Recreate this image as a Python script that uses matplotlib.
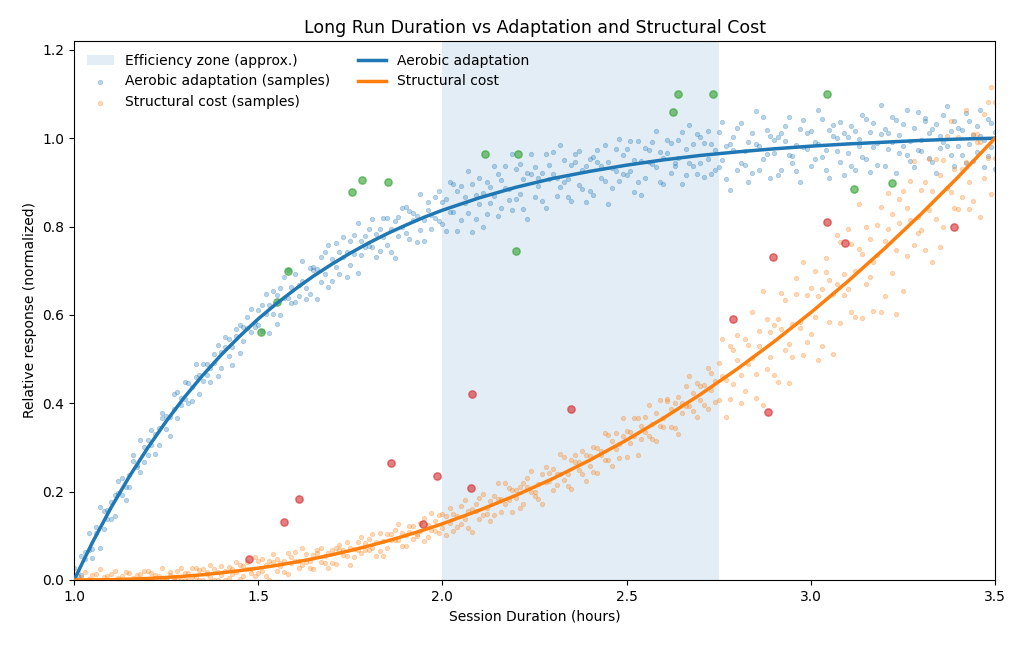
import numpy as np
import matplotlib
matplotlib.use("Agg")
import matplotlib.pyplot as plt

# Smooth response curves (hours -> normalized response)
curve_x = [1.00, 1.05, 1.10, 1.15, 1.20, 1.25, 1.30, 1.35, 1.40, 1.45,
           1.50, 1.55, 1.60, 1.65, 1.70, 1.75, 1.80, 1.85, 1.90, 1.95,
           2.00, 2.10, 2.20, 2.30, 2.40, 2.50, 2.60, 2.70, 2.80, 2.90,
           3.00, 3.10, 3.20, 3.30, 3.40, 3.50]
aerobic_curve = [0.000, 0.085, 0.163, 0.234, 0.299, 0.359, 0.414, 0.464, 0.510, 0.552,
                 0.591, 0.626, 0.658, 0.688, 0.715, 0.740, 0.763, 0.784, 0.803, 0.821,
                 0.837, 0.865, 0.889, 0.909, 0.925, 0.939, 0.951, 0.961, 0.969, 0.976,
                 0.982, 0.987, 0.991, 0.995, 0.998, 1.000]
structural_curve = [0.0000, 0.0002, 0.0007, 0.0018, 0.0034, 0.0056, 0.0085, 0.0120, 0.0162, 0.0211,
                    0.0268, 0.0331, 0.0403, 0.0483, 0.0570, 0.0666, 0.0771, 0.0883, 0.1004, 0.1134,
                    0.1272, 0.1577, 0.1918, 0.2296, 0.2712, 0.3169, 0.3664, 0.4199, 0.4775, 0.5393,
                    0.6053, 0.6756, 0.7501, 0.8290, 0.9123, 1.0000]

# Sample x positions (hours)
samp_x = [
    1.00, 1.01, 1.02, 1.03, 1.04, 1.05, 1.06, 1.07, 1.08, 1.09,
    1.10, 1.11, 1.12, 1.13, 1.14, 1.15, 1.16, 1.17, 1.18, 1.19,
    1.20, 1.21, 1.22, 1.23, 1.24, 1.25, 1.26, 1.27, 1.28, 1.29,
    1.30, 1.31, 1.32, 1.33, 1.34, 1.35, 1.36, 1.37, 1.38, 1.39,
    1.40, 1.41, 1.42, 1.43, 1.44, 1.45, 1.46, 1.47, 1.48, 1.49,
    1.50, 1.51, 1.52, 1.53, 1.54, 1.55, 1.56, 1.57, 1.58, 1.59,
    1.60, 1.61, 1.62, 1.63, 1.64, 1.65, 1.66, 1.67, 1.68, 1.69,
    1.70, 1.71, 1.72, 1.73, 1.74, 1.75, 1.76, 1.77, 1.78, 1.79,
    1.80, 1.81, 1.82, 1.83, 1.84, 1.85, 1.86, 1.87, 1.88, 1.89,
    1.90, 1.91, 1.92, 1.93, 1.94, 1.95, 1.96, 1.97, 1.98, 1.99,
    2.00, 2.01, 2.02, 2.03, 2.04, 2.05, 2.06, 2.07, 2.08, 2.09,
    2.10, 2.11, 2.12, 2.13, 2.14, 2.15, 2.16, 2.17, 2.18, 2.19,
    2.20, 2.21, 2.22, 2.23, 2.24, 2.25, 2.26, 2.27, 2.28, 2.29,
    2.30, 2.31, 2.32, 2.33, 2.34, 2.35, 2.36, 2.37, 2.38, 2.39,
    2.40, 2.41, 2.42, 2.43, 2.44, 2.45, 2.46, 2.47, 2.48, 2.49,
    2.50, 2.51, 2.52, 2.53, 2.54, 2.55, 2.56, 2.57, 2.58, 2.59,
    2.60, 2.61, 2.62, 2.63, 2.64, 2.65, 2.66, 2.67, 2.68, 2.69,
    2.70, 2.71, 2.72, 2.73, 2.74, 2.75, 2.76, 2.77, 2.78, 2.79,
    2.80, 2.81, 2.82, 2.83, 2.84, 2.85, 2.86, 2.87, 2.88, 2.89,
    2.90, 2.91, 2.92, 2.93, 2.94, 2.95, 2.96, 2.97, 2.98, 2.99,
    3.00, 3.01, 3.02, 3.03, 3.04, 3.05, 3.06, 3.07, 3.08, 3.09,
    3.10, 3.11, 3.12, 3.13, 3.14, 3.15, 3.16, 3.17, 3.18, 3.19,
    3.20, 3.21, 3.22, 3.23, 3.24, 3.25, 3.26, 3.27, 3.28, 3.29,
    3.30, 3.31, 3.32, 3.33, 3.34, 3.35, 3.36, 3.37, 3.38, 3.39,
    3.40, 3.41, 3.42, 3.43, 3.44, 3.45, 3.46, 3.47, 3.48, 3.49, 3.50]

# Aerobic adaptation samples (two passes over samp_x)
aerobic_a = [
    0.008, -0.013, 0.054, 0.048, 0.106, 0.070, 0.106, 0.072, 0.156, 0.138,
    0.138, 0.192, 0.224, 0.193, 0.180, 0.237, 0.270, 0.255, 0.316, 0.266,
    0.317, 0.306, 0.285, 0.345, 0.377, 0.341, 0.370, 0.421, 0.367, 0.411,
    0.449, 0.401, 0.437, 0.459, 0.421, 0.489, 0.463, 0.480, 0.512, 0.461,
    0.515, 0.551, 0.507, 0.527, 0.567, 0.514, 0.573, 0.596, 0.561, 0.583,
    0.612, 0.563, 0.647, 0.623, 0.601, 0.580, 0.660, 0.639, 0.701, 0.627,
    0.693, 0.643, 0.677, 0.637, 0.707, 0.702, 0.637, 0.731, 0.693, 0.759,
    0.726, 0.762, 0.693, 0.730, 0.686, 0.768, 0.738, 0.809, 0.736, 0.779,
    0.795, 0.753, 0.730, 0.794, 0.819, 0.759, 0.795, 0.729, 0.821, 0.799,
    0.785, 0.835, 0.814, 0.765, 0.873, 0.814, 0.838, 0.795, 0.866, 0.813,
    0.855, 0.790, 0.902, 0.832, 0.881, 0.815, 0.854, 0.925, 0.788, 0.871,
    0.910, 0.876, 0.829, 0.854, 0.938, 0.823, 0.906, 0.887, 0.861, 0.964,
    0.862, 0.941, 0.907, 0.818, 0.920, 0.935, 0.892, 0.858, 0.964, 0.907,
    0.918, 0.870, 0.984, 0.900, 0.866, 0.940, 0.964, 0.893, 0.927, 0.855,
    0.880, 0.958, 0.946, 0.911, 0.985, 0.851, 0.933, 0.976, 0.904, 0.961,
    0.975, 0.926, 0.878, 0.993, 0.949, 0.909, 0.973, 0.942, 1.016, 0.900,
    0.956, 0.997, 0.921, 0.945, 0.996, 0.897, 0.975, 1.030, 0.936, 0.919,
    0.943, 0.989, 1.017, 0.919, 0.973, 0.935, 1.036, 0.982, 0.883, 1.003,
    1.024, 0.945, 0.970, 0.901, 1.012, 0.987, 0.928, 1.049, 0.964, 1.005,
    0.996, 0.917, 1.012, 1.028, 0.963, 0.944, 0.985, 0.900, 1.041, 0.976,
    0.937, 0.992, 1.063, 0.958, 0.929, 1.019, 1.005, 0.970, 1.036, 0.916,
    1.002, 0.937, 1.017, 0.983, 1.053, 0.953, 0.923, 1.034, 0.989, 1.075,
    0.936, 1.011, 0.992, 1.042, 0.967, 0.983, 1.063, 0.948, 1.024, 0.974,
    0.995, 1.040, 0.955, 1.021, 0.921, 1.006, 1.052, 0.982, 0.962, 1.038,
    1.023, 0.963, 1.058, 0.988, 0.948, 1.028, 1.004, 0.934, 1.044, 0.980, 1.015]
aerobic_b = [
    0.028, 0.009, 0.011, 0.064, 0.068, 0.050, 0.119, 0.165, 0.115, 0.158,
    0.176, 0.144, 0.196, 0.231, 0.210, 0.211, 0.282, 0.260, 0.245, 0.301,
    0.284, 0.339, 0.331, 0.305, 0.367, 0.372, 0.327, 0.386, 0.425, 0.395,
    0.409, 0.447, 0.406, 0.489, 0.464, 0.451, 0.488, 0.448, 0.492, 0.531,
    0.480, 0.528, 0.545, 0.487, 0.552, 0.577, 0.542, 0.571, 0.614, 0.573,
    0.577, 0.623, 0.601, 0.559, 0.654, 0.644, 0.600, 0.685, 0.638, 0.663,
    0.630, 0.668, 0.723, 0.662, 0.647, 0.709, 0.704, 0.674, 0.743, 0.664,
    0.676, 0.709, 0.743, 0.776, 0.742, 0.712, 0.780, 0.696, 0.768, 0.754,
    0.756, 0.816, 0.783, 0.744, 0.776, 0.819, 0.742, 0.813, 0.778, 0.841,
    0.845, 0.772, 0.831, 0.825, 0.792, 0.768, 0.856, 0.827, 0.820, 0.880,
    0.805, 0.863, 0.834, 0.896, 0.790, 0.892, 0.868, 0.830, 0.896, 0.817,
    0.851, 0.799, 0.902, 0.890, 0.870, 0.918, 0.843, 0.936, 0.884, 0.837,
    0.930, 0.873, 0.839, 0.922, 0.965, 0.867, 0.910, 0.921, 0.842, 0.939,
    0.968, 0.911, 0.889, 0.950, 0.907, 0.858, 0.946, 0.970, 0.886, 0.937,
    0.952, 0.872, 0.973, 0.938, 0.904, 0.946, 0.888, 0.926, 0.999, 0.920,
    0.916, 0.994, 0.950, 0.902, 0.872, 0.977, 0.946, 0.992, 0.934, 0.968,
    0.897, 0.966, 0.989, 0.936, 0.955, 1.015, 0.916, 0.944, 0.986, 1.010,
    1.002, 0.912, 0.954, 0.987, 0.928, 1.015, 0.951, 0.907, 0.988, 0.973,
    0.929, 1.035, 0.940, 0.991, 0.922, 1.062, 0.983, 0.954, 1.019, 0.910,
    0.966, 1.002, 0.927, 0.993, 1.048, 0.959, 0.925, 1.020, 0.981, 1.011,
    1.017, 0.952, 0.988, 1.043, 0.974, 0.909, 1.030, 1.000, 0.946, 1.011,
    0.967, 1.027, 0.928, 0.998, 0.958, 1.043, 1.014, 0.979, 0.940, 1.010,
    1.021, 0.976, 1.047, 0.922, 1.007, 1.033, 0.963, 0.993, 0.934, 1.059,
    0.970, 1.045, 1.011, 0.946, 1.032, 0.977, 0.992, 1.072, 1.017, 0.938,
    0.983, 1.018, 0.943, 1.038, 1.008, 0.969, 1.064, 0.995, 0.960, 1.035, 0.930]

# Structural cost samples (two passes over samp_x)
structural_a = [
    0.000, 0.000, 0.007, 0.018, 0.003, 0.000, 0.014, 0.000, 0.006, 0.000,
    0.000, 0.021, 0.005, 0.000, 0.001, 0.016, 0.000, 0.011, 0.000, 0.020,
    0.020, 0.000, 0.012, 0.009, 0.000, 0.000, 0.019, 0.007, 0.003, 0.026,
    0.000, 0.016, 0.007, 0.026, 0.000, 0.025, 0.017, 0.006, 0.025, 0.001,
    0.011, 0.000, 0.029, 0.025, 0.018, 0.035, 0.010, 0.041, 0.024, 0.008,
    0.043, 0.021, 0.008, 0.042, 0.059, 0.021, 0.039, 0.043, 0.013, 0.052,
    0.063, 0.042, 0.034, 0.059, 0.043, 0.025, 0.061, 0.072, 0.039, 0.060,
    0.068, 0.037, 0.079, 0.067, 0.054, 0.072, 0.051, 0.067, 0.098, 0.068,
    0.067, 0.103, 0.086, 0.066, 0.054, 0.103, 0.091, 0.113, 0.090, 0.106,
    0.076, 0.109, 0.122, 0.100, 0.111, 0.140, 0.098, 0.113, 0.134, 0.146,
    0.150, 0.102, 0.128, 0.149, 0.119, 0.167, 0.137, 0.118, 0.161, 0.157,
    0.138, 0.194, 0.149, 0.178, 0.146, 0.220, 0.183, 0.171, 0.208, 0.155,
    0.186, 0.210, 0.171, 0.211, 0.246, 0.200, 0.184, 0.240, 0.222, 0.243,
    0.251, 0.216, 0.241, 0.278, 0.240, 0.205, 0.282, 0.268, 0.239, 0.282,
    0.258, 0.302, 0.242, 0.291, 0.271, 0.329, 0.315, 0.297, 0.276, 0.325,
    0.338, 0.311, 0.366, 0.283, 0.348, 0.370, 0.326, 0.352, 0.315, 0.408,
    0.347, 0.409, 0.388, 0.344, 0.414, 0.378, 0.394, 0.461, 0.424, 0.369,
    0.408, 0.441, 0.387, 0.469, 0.451, 0.407, 0.545, 0.453, 0.410, 0.521,
    0.555, 0.463, 0.427, 0.531, 0.502, 0.411, 0.564, 0.654, 0.478, 0.561,
    0.577, 0.448, 0.567, 0.634, 0.535, 0.504, 0.684, 0.585, 0.509, 0.644,
    0.557, 0.700, 0.643, 0.530, 0.697, 0.680, 0.511, 0.670, 0.765, 0.644,
    0.659, 0.760, 0.596, 0.851, 0.739, 0.670, 0.771, 0.609, 0.735, 0.845,
    0.642, 0.794, 0.829, 0.603, 0.809, 0.880, 0.734, 0.814, 0.948, 0.785,
    0.793, 0.900, 0.837, 0.719, 0.952, 0.916, 0.798, 1.004, 0.878, 0.931,
    0.840, 0.930, 1.064, 0.902, 0.857, 1.010, 0.992, 0.910, 1.081, 0.874, 1.081]
structural_b = [
    0.004, 0.017, 0.000, 0.000, 0.000, 0.011, 0.000, 0.024, 0.000, 0.009,
    0.014, 0.000, 0.000, 0.009, 0.017, 0.000, 0.005, 0.000, 0.013, 0.003,
    0.000, 0.015, 0.005, 0.000, 0.027, 0.003, 0.012, 0.000, 0.021, 0.000,
    0.015, 0.000, 0.028, 0.007, 0.022, 0.001, 0.013, 0.035, 0.000, 0.018,
    0.031, 0.020, 0.004, 0.013, 0.041, 0.003, 0.031, 0.025, 0.016, 0.051,
    0.016, 0.048, 0.035, 0.000, 0.041, 0.048, 0.031, 0.018, 0.061, 0.039,
    0.044, 0.026, 0.072, 0.040, 0.027, 0.057, 0.068, 0.041, 0.055, 0.028,
    0.039, 0.072, 0.068, 0.056, 0.087, 0.035, 0.069, 0.087, 0.060, 0.084,
    0.093, 0.073, 0.054, 0.106, 0.088, 0.073, 0.103, 0.091, 0.126, 0.076,
    0.102, 0.123, 0.092, 0.104, 0.129, 0.088, 0.124, 0.151, 0.112, 0.106,
    0.117, 0.145, 0.163, 0.111, 0.144, 0.127, 0.180, 0.156, 0.108, 0.172,
    0.186, 0.148, 0.164, 0.133, 0.191, 0.183, 0.155, 0.219, 0.180, 0.203,
    0.203, 0.162, 0.219, 0.231, 0.199, 0.191, 0.218, 0.173, 0.256, 0.223,
    0.203, 0.240, 0.286, 0.227, 0.213, 0.271, 0.267, 0.250, 0.293, 0.225,
    0.281, 0.244, 0.299, 0.282, 0.332, 0.272, 0.257, 0.332, 0.308, 0.366,
    0.278, 0.336, 0.327, 0.367, 0.319, 0.335, 0.396, 0.320, 0.378, 0.348,
    0.366, 0.405, 0.347, 0.401, 0.330, 0.401, 0.440, 0.393, 0.382, 0.445,
    0.440, 0.397, 0.479, 0.429, 0.403, 0.491, 0.461, 0.369, 0.529, 0.444,
    0.499, 0.400, 0.546, 0.489, 0.607, 0.467, 0.529, 0.395, 0.590, 0.505,
    0.464, 0.591, 0.650, 0.521, 0.445, 0.580, 0.647, 0.570, 0.720, 0.539,
    0.661, 0.596, 0.499, 0.658, 0.729, 0.584, 0.647, 0.782, 0.581, 0.692,
    0.795, 0.606, 0.699, 0.749, 0.594, 0.798, 0.686, 0.719, 0.803, 0.607,
    0.768, 0.875, 0.694, 0.747, 0.863, 0.655, 0.842, 0.904, 0.759, 0.821,
    0.883, 0.747, 0.954, 0.881, 0.817, 0.754, 0.951, 0.887, 1.040, 0.841,
    1.002, 0.867, 0.947, 0.839, 1.010, 0.992, 0.821, 1.054, 0.955, 1.117, 0.955]

# Outlying observations
aerobic_out_x = [1.508, 1.552, 1.580, 1.754, 1.782, 1.851, 2.116, 2.205, 2.199,
                 2.625, 2.640, 2.735, 3.043, 3.117, 3.221]
aerobic_out_y = [0.561, 0.630, 0.700, 0.879, 0.906, 0.901, 0.964, 0.964, 0.745,
                 1.059, 1.099, 1.099, 1.099, 0.885, 0.899]
structural_out_x = [1.475, 1.569, 1.611, 1.860, 1.948, 1.985, 2.081, 2.078, 2.350,
                    2.790, 2.883, 2.898, 3.045, 3.093, 3.389]
structural_out_y = [0.048, 0.131, 0.183, 0.264, 0.127, 0.235, 0.421, 0.209, 0.388,
                    0.591, 0.381, 0.731, 0.810, 0.763, 0.799]

zone_start, zone_end = 2.0, 2.75

fig, ax = plt.subplots(figsize=(10.24, 6.46), dpi=100)
fig.subplots_adjust(left=0.0723, right=0.9717, top=0.9365, bottom=0.1022)

zone = ax.axvspan(zone_start, zone_end, color='tab:blue', alpha=0.13, lw=0,
                  label='Efficiency zone (approx.)')

xs = np.concatenate([samp_x, samp_x])
s_aer = ax.scatter(xs, np.concatenate([aerobic_a, aerobic_b]), s=10,
                   color='tab:blue', alpha=0.3, lw=0.6,
                   label='Aerobic adaptation (samples)')
s_str = ax.scatter(xs, np.concatenate([structural_a, structural_b]), s=10,
                   color='tab:orange', alpha=0.3, lw=0.6,
                   label='Structural cost (samples)')

ax.scatter(aerobic_out_x, aerobic_out_y, s=28, color='tab:green', alpha=0.6, zorder=3)
ax.scatter(structural_out_x, structural_out_y, s=28, color='tab:red', alpha=0.6, zorder=3)

l_aer, = ax.plot(curve_x, aerobic_curve, color='tab:blue', lw=2.5,
                 label='Aerobic adaptation', zorder=4)
l_str, = ax.plot(curve_x, structural_curve, color='tab:orange', lw=2.5,
                 label='Structural cost', zorder=4)

ax.set_xlim(1.0, 3.5)
ax.set_ylim(0, 1.22)
ax.set_title('Long Run Duration vs Adaptation and Structural Cost', fontsize=12.5)
ax.set_xlabel('Session Duration (hours)')
ax.set_ylabel('Relative response (normalized)')

ax.legend(handles=[zone, s_aer, s_str, l_aer, l_str], loc='upper left',
          ncol=2, frameon=False)

fig.savefig('out.png', dpi=100)
